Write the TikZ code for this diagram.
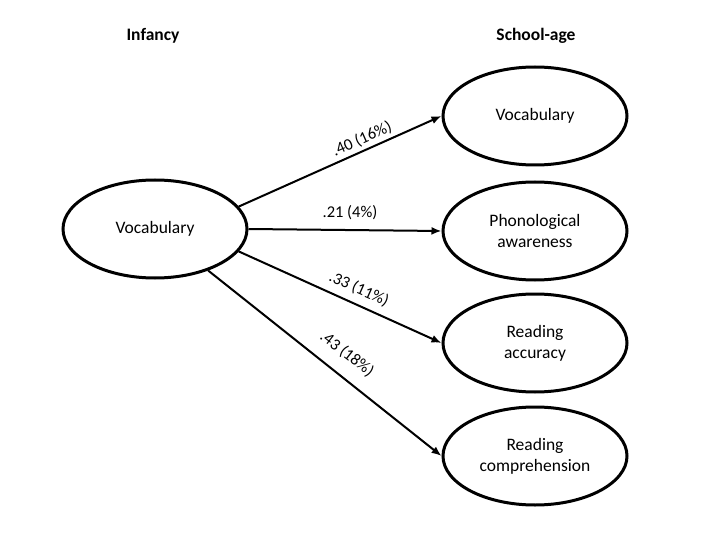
\documentclass[tikz,border=0pt]{standalone}
\usepackage{fontspec}
\setmainfont{Carlito}
\usetikzlibrary{shapes.geometric,arrows.meta}
\begin{document}
\begin{tikzpicture}[x=1pt,y=-1pt,
  ov/.style={ellipse,draw,line width=3pt,minimum width=184pt,minimum height=98pt,align=center,font=\fontsize{17.5}{21}\selectfont,inner sep=0pt},
  con/.style={line width=2pt,-{Latex[length=10pt,width=8pt]}},
  lab/.style={font=\fontsize{16.5}{19}\selectfont,inner sep=1pt},
  hd/.style={font=\fontsize{17.5}{21}\selectfont\bfseries}]
\useasboundingbox (0,0) rectangle (720,540);
\node[hd] (h1) at (153,36) {Infancy};
\node[hd] (h2) at (536,36) {School-age};
\node[ov] (L) at (155,229) {Vocabulary};
\node[ov] (R1) at (535,116) {Vocabulary};
\node[ov] (R2) at (535,231) {Phonological\\awareness};
\node[ov] (R3) at (535,343) {Reading\\accuracy};
\node[ov] (R4) at (535,456) {Reading\\comprehension};
\draw[con] (L.15) -- (R1.west);
\draw[con] (L.0) -- (R2.west);
\draw[con] (L.-15) -- (R3.west);
\draw[con] (L.-38) -- (R4.west);
\node[lab,rotate=24] (a) at (362,139) {.40 (16\%)};
\node[lab] (b) at (350,213) {.21 (4\%)};
\node[lab,rotate=-24] (c) at (359,289) {.33 (11\%)};
\node[lab,rotate=-38] (d) at (347,354) {.43 (18\%)};
\end{tikzpicture}
\end{document}
